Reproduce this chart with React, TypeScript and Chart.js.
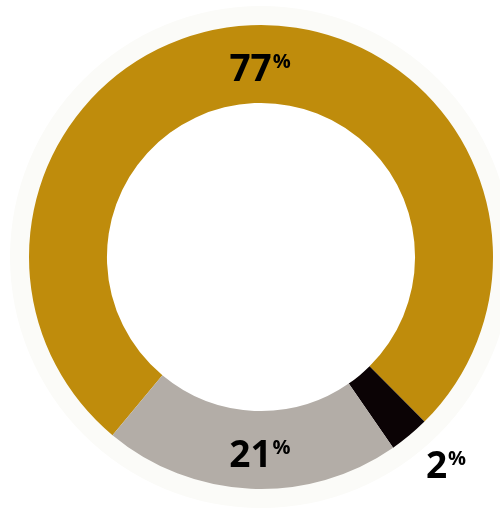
import React, { useEffect, useRef } from "react";
import { Chart, registerables } from "chart.js";

Chart.register(...registerables);

const categories = ["Gold", "Black", "Gray"];
const values = [76.5, 2.8, 20.7];
const valueLabels = ["77", "2", "21"];
const colors = ["#BF8C0C", "#0B0305", "#B3ADA7"];
const labelOutside = [false, true, false];

const labelPlugin = {
  id: "pctLabels",
  beforeDatasetsDraw(chart: any) {
    const meta = chart.getDatasetMeta(0);
    const arc = meta.data[0];
    if (!arc) return;
    const ctx = chart.ctx;
    ctx.save();
    ctx.beginPath();
    ctx.arc(arc.x, arc.y, arc.outerRadius + 19, 0, Math.PI * 2);
    ctx.arc(arc.x, arc.y, arc.outerRadius - 1, 0, Math.PI * 2, true);
    ctx.fillStyle = "#FBFBF8";
    ctx.fill();
    ctx.restore();
  },
  afterDatasetsDraw(chart: any) {
    const meta = chart.getDatasetMeta(0);
    const ctx = chart.ctx;
    ctx.save();
    meta.data.forEach((el: any, i: number) => {
      const mid = (el.startAngle + el.endAngle) / 2;
      const r = labelOutside[i]
        ? el.outerRadius + 33
        : (el.outerRadius + el.innerRadius) / 2;
      const x = el.x + Math.cos(mid) * r;
      const y = el.y + Math.sin(mid) * r;
      const num = valueLabels[i];
      ctx.fillStyle = "#000";
      ctx.textBaseline = "alphabetic";
      ctx.font = "bold 37px 'Open Sans'";
      const w = ctx.measureText(num).width;
      ctx.textAlign = "left";
      const baseY = y + 17;
      const dx = labelOutside[i] ? 6 : -2;
      ctx.fillText(num, x - w / 2 + dx, baseY);
      ctx.font = "bold 20px 'Open Sans'";
      ctx.fillText("%", x + w / 2 + 1 + dx, baseY - 13);
    });
    ctx.restore();
  },
};

export default function App() {
  const ref = useRef<HTMLCanvasElement>(null);
  useEffect(() => {
    if (!ref.current) return;
    const chart = new Chart(ref.current, {
      type: "doughnut",
      data: {
        labels: categories,
        datasets: [
          {
            data: values,
            backgroundColor: colors,
            borderWidth: 0,
          },
        ],
      },
      options: {
        animation: false,
        responsive: false,
        rotation: 219.8,
        cutout: "66.4%",
        layout: { padding: { left: 29, right: 7, top: 25, bottom: 19 } },
        plugins: { legend: { display: false }, tooltip: { enabled: false } },
      },
      plugins: [labelPlugin],
    });
    return () => chart.destroy();
  }, []);
  return (
    <div style={{ position: "fixed", left: 0, top: 0, width: 500, height: 508, background: "#fff" }}>
      <canvas ref={ref} width={500} height={508} style={{ display: "block" }} />
    </div>
  );
}
